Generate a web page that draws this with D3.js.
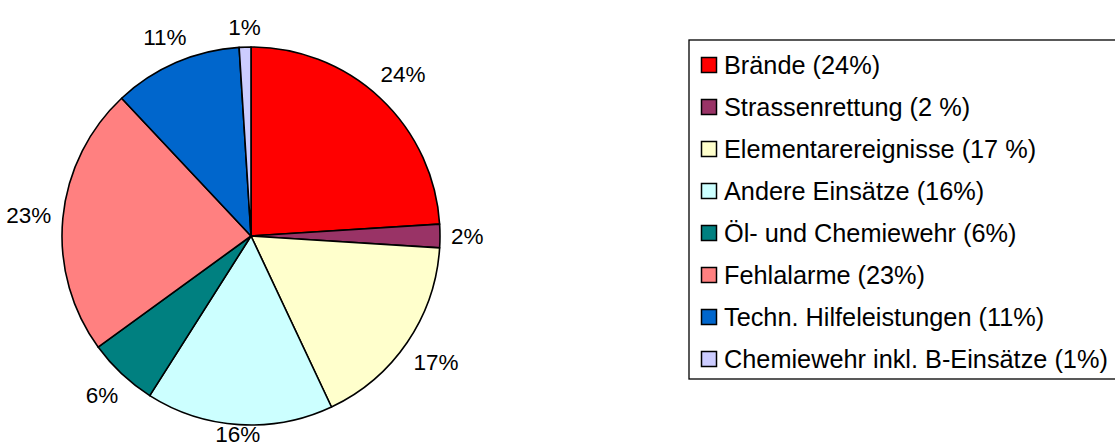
<!DOCTYPE html>
<html><head><meta charset="utf-8">
<script src="https://cdn.jsdelivr.net/npm/d3@7"></script>
<style>html,body{margin:0;padding:0;background:#fff;}svg{display:block;font-family:"Liberation Sans",Arial,sans-serif;}</style>
</head><body>
<svg id="chart" width="1115" height="447"></svg>
<script>
const categories = ["Brände (24%)","Strassenrettung (2 %)","Elementarereignisse (17 %)","Andere Einsätze (16%)","Öl- und Chemiewehr (6%)","Fehlalarme (23%)","Techn. Hilfeleistungen (11%)","Chemiewehr inkl. B-Einsätze (1%)"];
const values = [24,2,17,16,6,23,11,1];
const labels = ["24%","2%","17%","16%","6%","23%","11%","1%"];
const colors = ["#FF0000","#993366","#FFFFCC","#CCFFFF","#008080","#FF8080","#0066CC","#CCCCFF"];

const svg = d3.select("#chart");
const W = 1115, H = 447;
const cx = 251, cy = 236, R = 189;
const pie = d3.pie().sort(null).value(d=>d)(values);
const arc = d3.arc().innerRadius(0).outerRadius(R);
const g = svg.append("g").attr("transform",`translate(${cx},${cy})`);
g.selectAll("path").data(pie).join("path")
  .attr("d",arc).attr("fill",(d,i)=>colors[i])
  .attr("stroke","#000").attr("stroke-width",1.6).attr("stroke-linejoin","round");

const gap = 11, visH = 18;
g.selectAll("text.lab").data(pie).join("text").attr("class","lab")
  .attr("font-size","22.5px").attr("fill","#000")
  .attr("text-anchor","middle")
  .text((d,i)=>labels[i])
  .each(function(d){
    const bb = this.getBBox();
    const a = (d.startAngle+d.endAngle)/2;
    const s = Math.sin(a), c = -Math.cos(a);
    const r = R + gap + bb.width/2*Math.abs(s) + visH/2*Math.abs(c);
    const x = cx + r*s;
    let base = cy + r*c + 8;
    base = Math.min(base, H - 5);
    base = Math.max(base, 18);
    d3.select(this).attr("x", x - cx).attr("y", base - cy);
  });

// legend
const lx = 689, ly = 40, lw = 430, lh = 339;
svg.append("rect").attr("x",lx).attr("y",ly).attr("width",lw).attr("height",lh)
  .attr("fill","#fff").attr("stroke","#000").attr("stroke-width",1.3);
const rowY = d3.scalePoint().domain(categories).range([65,359]);
const lg = svg.append("g");
categories.forEach((c,i)=>{
  const y = rowY(c);
  lg.append("rect").attr("x",701.5).attr("y",y-7.5).attr("width",15).attr("height",15)
    .attr("fill",colors[i]).attr("stroke","#000").attr("stroke-width",1.5);
  lg.append("text").attr("x",724).attr("y",y+9).attr("font-size","25.3px").attr("fill","#000").text(c);
});
</script>
</body></html>
